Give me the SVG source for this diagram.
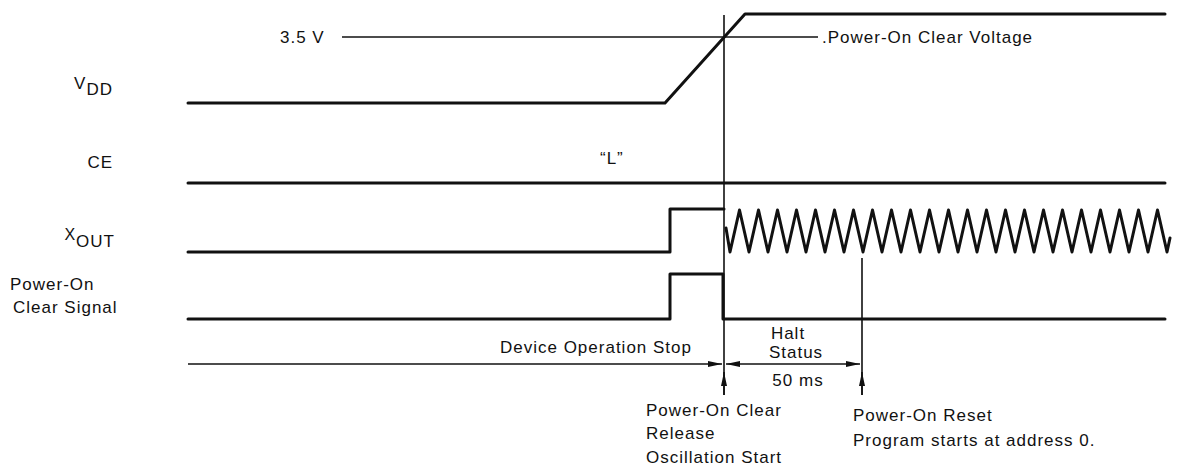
<svg xmlns="http://www.w3.org/2000/svg" width="1179" height="467" viewBox="0 0 1179 467">
<style>
text{font-family:"Liberation Sans",Arial,sans-serif;font-size:17px;fill:#111;letter-spacing:1px}
.sig{fill:none;stroke:#111;stroke-width:3;stroke-linejoin:round;stroke-linecap:round}
.thin{fill:none;stroke:#111;stroke-width:1.6}
</style>
<defs>
<marker id="ah" viewBox="0 0 14 6" refX="14" refY="3" markerWidth="14" markerHeight="6" markerUnits="userSpaceOnUse" orient="auto-start-reverse">
<path d="M0,0 L14,3 L0,6 Z" fill="#111"/>
</marker>
</defs>
<rect width="1179" height="467" fill="#fff"/>

<g id="label-vdd"><text x="113" y="89" text-anchor="end">V<tspan dy="6">DD</tspan></text></g>
<g id="label-ce"><text x="113" y="168" text-anchor="end">CE</text></g>
<g id="label-xout"><text x="115" y="240" text-anchor="end"><tspan font-size="16">X</tspan><tspan dy="7">OUT</tspan></text></g>
<g id="label-poc"><text x="10" y="290">Power-On</text><text x="13" y="313">Clear Signal</text></g>

<g id="sig-vdd"><path class="sig" d="M188,103 H665 L745,14 H1165"/></g>
<g id="sig-ce"><path class="sig" d="M188,183 H1165"/><text x="600" y="164">&#8220;L&#8221;</text></g>
<g id="sig-xout">
<path class="sig" d="M188,252 H670 V209 H724"/>
<path class="sig" d="M726,228 L730,252 L739.5,210 L749,252 L758.5,210 L768,252 L777.5,210 L787,252 L796.5,210 L806,252 L815.5,210 L825,252 L834.5,210 L844,252 L853.5,210 L863,252 L872.5,210 L882,252 L891.5,210 L901,252 L910.5,210 L920,252 L929.5,210 L939,252 L948.5,210 L958,252 L967.5,210 L977,252 L986.5,210 L996,252 L1005.5,210 L1015,252 L1024.5,210 L1034,252 L1043.5,210 L1053,252 L1062.5,210 L1072,252 L1081.5,210 L1091,252 L1100.5,210 L1110,252 L1119.5,210 L1129,252 L1138.5,210 L1148,252 L1157.5,210 L1167,252 L1170,238"/>
</g>
<g id="sig-poc"><path class="sig" d="M188,319 H670 V274 H723 V319 H1165"/></g>

<g id="threshold">
<path class="thin" d="M342,37 H818"/>
<text x="280" y="43" letter-spacing="0.5">3.5 V</text>
<text x="822" y="43">.Power-On Clear Voltage</text>
</g>

<g id="connectors">
<path class="thin" d="M724,15 V395"/>
<path class="thin" d="M862,258 V395"/>
<path class="thin" d="M188,364 H722" marker-end="url(#ah)"/>
<path class="thin" d="M726,364 H860" marker-start="url(#ah)" marker-end="url(#ah)"/>
<path class="thin" d="M724,395 V372" marker-end="url(#ah)"/>
<path class="thin" d="M862,395 V372" marker-end="url(#ah)"/>
</g>

<g id="annotations">
<text x="692" y="353" text-anchor="end">Device Operation Stop</text>
<text x="788" y="339" text-anchor="middle">Halt</text>
<text x="796" y="358" text-anchor="middle">Status</text>
<text x="798" y="386" text-anchor="middle">50 ms</text>
<text x="646" y="416">Power-On Clear</text>
<text x="646" y="439">Release</text>
<text x="646" y="463">Oscillation Start</text>
<text x="853" y="421">Power-On Reset</text>
<text x="853" y="446">Program starts at address 0.</text>
</g>
</svg>
